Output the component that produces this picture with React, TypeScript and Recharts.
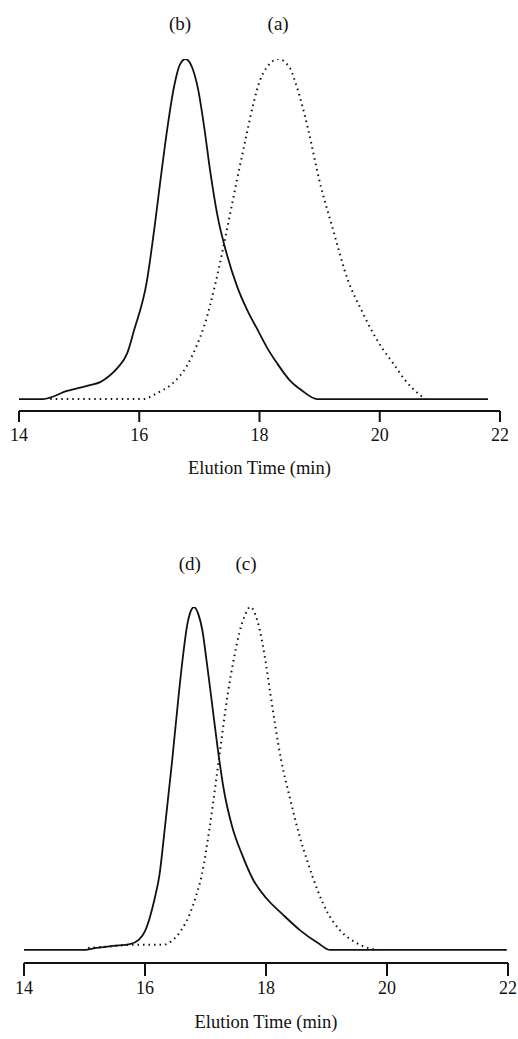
import { LineChart, Line, XAxis, YAxis, ReferenceDot } from "recharts";

// top panel: (a) dotted, (b) solid
const timesA = [14.52, 16.06, 16.3, 16.56, 16.8, 16.95, 17.08, 17.28, 17.46, 17.62, 17.8, 17.9, 18.01, 18.13, 18.31, 18.5, 18.6, 18.7, 18.8, 19.0, 19.22, 19.47, 19.7, 19.87, 20.04, 20.22, 20.42, 20.67, 20.76];
const signalA = [0, 0, 1.8, 4.7, 10, 15.5, 21.5, 35, 50, 64, 79, 87, 93.8, 97.7, 100, 97.5, 93, 87, 80, 64, 50, 35, 26, 20, 15, 10.6, 5.6, 1.2, 0];

const timesB = [14.0, 14.4, 14.8, 15.18, 15.35, 15.5, 15.65, 15.8, 15.91, 16.13, 16.25, 16.35, 16.47, 16.58, 16.68, 16.77, 16.88, 16.98, 17.08, 17.18, 17.3, 17.45, 17.63, 17.8, 17.98, 18.13, 18.29, 18.5, 18.7, 18.96, 21.8];
const signalB = [0, 0, 2.4, 4.1, 5, 6.8, 9.4, 13.5, 20, 35, 50, 64, 80, 92, 98.5, 100, 97.5, 91, 80, 67, 54, 43, 33, 26, 20, 15, 10.6, 5.6, 2.6, 0, 0];

// bottom panel: (c) dotted, (d) solid
const timesC = [15.06, 15.4, 15.8, 16.3, 16.46, 16.6, 16.74, 16.84, 16.94, 17.07, 17.22, 17.37, 17.47, 17.56, 17.65, 17.74, 17.82, 17.9, 17.98, 18.07, 18.25, 18.4, 18.55, 18.7, 18.85, 19.02, 19.22, 19.5, 19.75, 19.85];
const signalC = [0.6, 1.0, 1.5, 1.5, 2.9, 5.8, 10.5, 15.5, 22, 35.9, 55.4, 74.9, 85, 92.5, 97.5, 100, 98, 93, 85.5, 75, 55.4, 44, 33.5, 25, 17.5, 10.8, 5.8, 2, 0.3, 0];

const timesD = [14.0, 14.96, 15.2, 15.47, 15.75, 15.9, 16.0, 16.08, 16.16, 16.24, 16.33, 16.45, 16.56, 16.63, 16.7, 16.75, 16.81, 16.88, 16.95, 17.02, 17.1, 17.2, 17.3, 17.44, 17.6, 17.79, 18.01, 18.28, 18.56, 18.86, 19.06, 21.98];
const signalD = [0, 0, 0.6, 1.2, 1.7, 3, 5.5, 9.5, 15, 22, 35.9, 55.4, 74.9, 86, 95, 98.5, 100, 98, 93, 84, 73, 59, 47, 36, 28, 20.4, 15, 10.3, 5.8, 2, 0, 0];

const xTicks = [14, 16, 18, 20, 22];
const topLabels = ["(b)", "(a)"];
const topLabelTimes = [16.68, 18.31];
const bottomLabels = ["(d)", "(c)"];
const bottomLabelTimes = [16.74, 17.67];

const toRows = (t: number[], v: number[]) => t.map((x, i) => ({ t: x, v: v[i] }));

const serif = "'Liberation Serif', 'DejaVu Serif', serif";
const ink = "#111";

type PanelProps = {
  top: number;
  height: number;
  margin: { top: number; right: number; left: number; bottom: number };
  axisHeight: number;
  yMin: number;
  tickSize: number;
  tickMargin: number;
  titleOffset: number;
  labelOffset: number;
  dotted: { t: number; v: number }[];
  solid: { t: number; v: number }[];
  labels: string[];
  labelTimes: number[];
};

const Panel = (p: PanelProps) => (
  <div style={{ position: "absolute", left: 0, top: p.top }}>
    <LineChart width={518} height={p.height} margin={p.margin}>
      <XAxis
        type="number"
        dataKey="t"
        domain={[14, 22]}
        ticks={xTicks}
        height={p.axisHeight}
        axisLine={{ stroke: ink, strokeWidth: 2 }}
        tickLine={{ stroke: ink, strokeWidth: 2 }}
        tickSize={p.tickSize}
        tickMargin={p.tickMargin}
        tick={{ fill: ink, fontSize: 18, fontFamily: serif }}
        label={{
          value: "Elution Time (min)",
          position: "insideBottom",
          offset: p.titleOffset,
          fill: ink,
          fontSize: 18.5,
          fontFamily: serif,
        }}
      />
      <YAxis hide domain={[p.yMin, 100]} allowDataOverflow />
      <Line
        data={p.dotted}
        dataKey="v"
        type="monotone"
        stroke={ink}
        strokeWidth={2}
        strokeDasharray="1.5 4"
        dot={false}
        activeDot={false}
        isAnimationActive={false}
      />
      <Line
        data={p.solid}
        dataKey="v"
        type="monotone"
        stroke={ink}
        strokeWidth={1.8}
        dot={false}
        activeDot={false}
        isAnimationActive={false}
      />
      {p.labels.map((lab, i) => (
        <ReferenceDot
          key={lab}
          x={p.labelTimes[i]}
          y={100}
          r={0}
          fill="none"
          stroke="none"
          label={{
            value: lab,
            position: "top",
            offset: p.labelOffset,
            fill: ink,
            fontSize: 19,
            fontFamily: serif,
          }}
        />
      ))}
    </LineChart>
  </div>
);

export default function App() {
  return (
    <div
      style={{
        position: "absolute",
        left: 0,
        top: 0,
        width: 518,
        height: 1039,
        background: "#fff",
      }}
    >
      <Panel
        top={0}
        height={500}
        margin={{ top: 59, right: 18, left: 19, bottom: 0 }}
        axisHeight={89}
        yMin={-3.5}
        tickSize={11}
        tickMargin={6}
        titleOffset={26}
        labelOffset={29}
        dotted={toRows(timesA, signalA)}
        solid={toRows(timesB, signalB)}
        labels={topLabels}
        labelTimes={topLabelTimes}
      />
      <Panel
        top={500}
        height={539}
        margin={{ top: 107, right: 10, left: 24, bottom: 0 }}
        axisHeight={76}
        yMin={-3.8}
        tickSize={13}
        tickMargin={5}
        titleOffset={11}
        labelOffset={37}
        dotted={toRows(timesC, signalC)}
        solid={toRows(timesD, signalD)}
        labels={bottomLabels}
        labelTimes={bottomLabelTimes}
      />
    </div>
  );
}
